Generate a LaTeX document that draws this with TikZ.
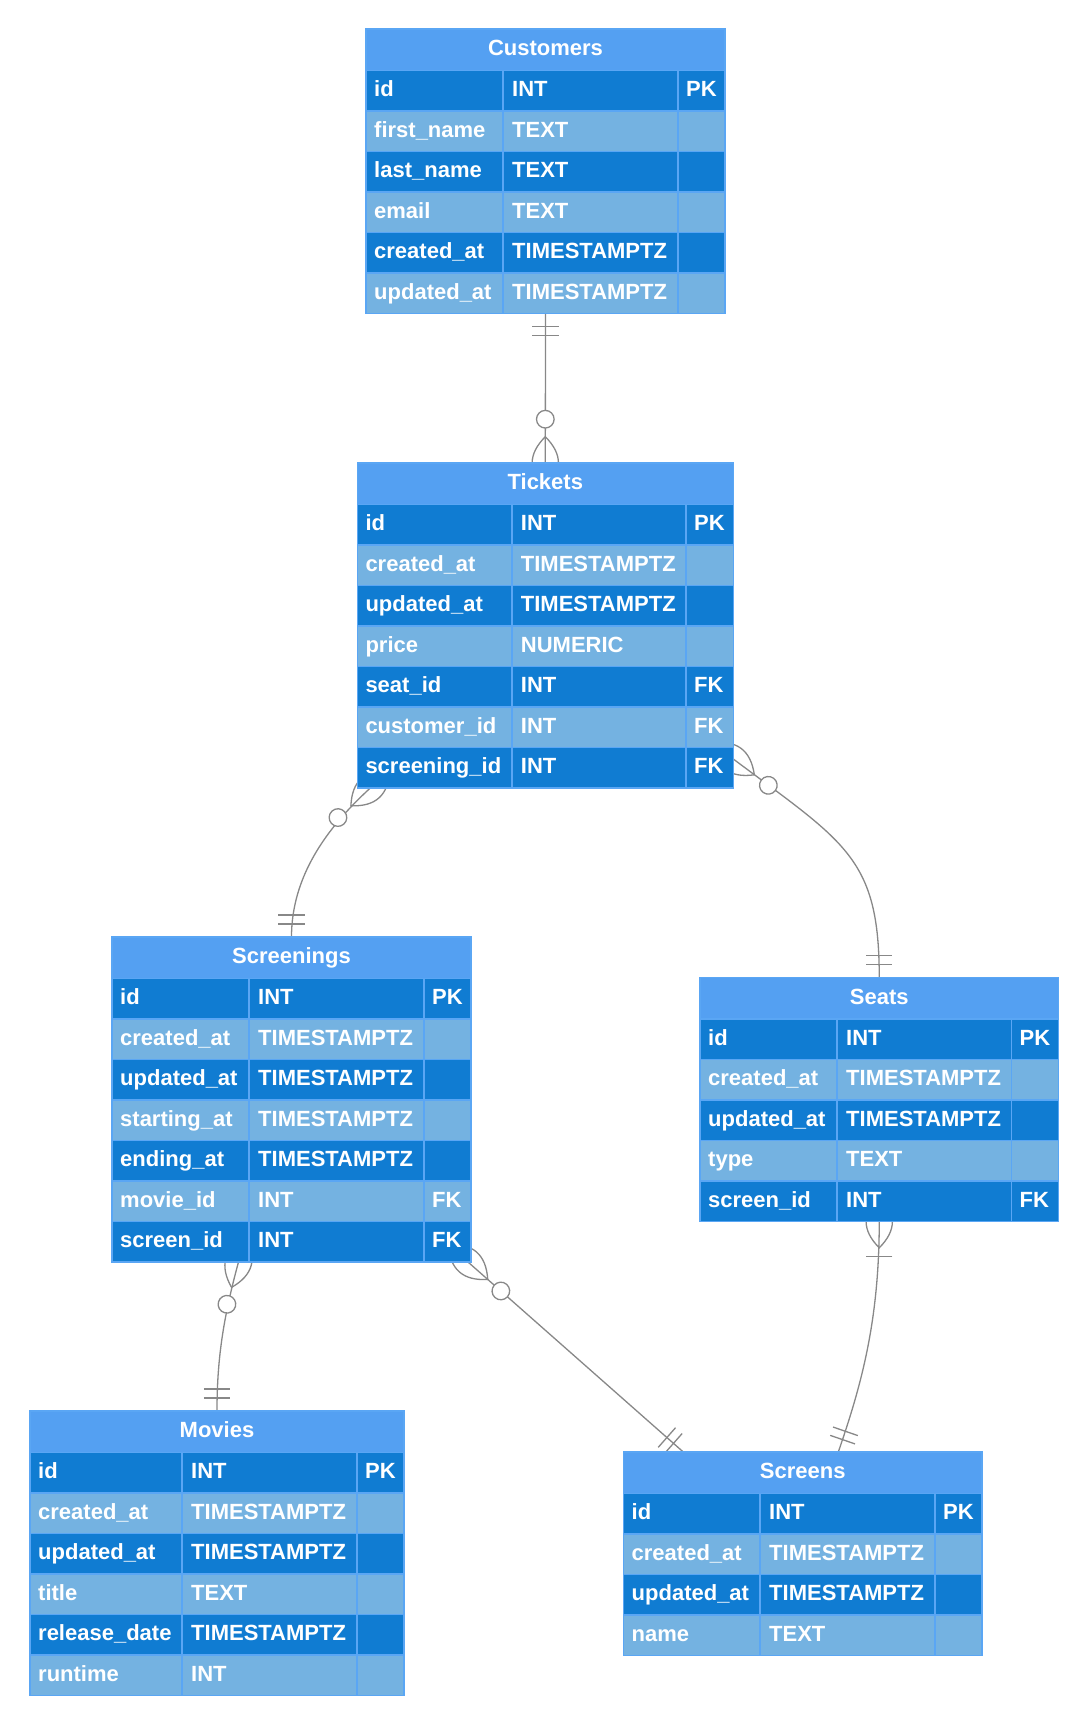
\documentclass[tikz,border=0pt]{standalone}
\usepackage{fontspec}
\setmainfont{Liberation Sans}
\usetikzlibrary{calc}
\pgfdeclarelayer{bg}
\pgfsetlayers{bg,main}
\definecolor{hdrc}{HTML}{54A0F2}
\definecolor{darkc}{HTML}{107CD2}
\definecolor{lightc}{HTML}{74B2E1}
\definecolor{brdc}{HTML}{5AA6F4}
\definecolor{linec}{HTML}{888888}
\newcommand\erfont{\fontsize{22pt}{26pt}\selectfont\bfseries}
\tikzset{
  erframe/.style={fill=hdrc, draw=brdc, line width=1.6pt, inner sep=0pt, outer sep=0pt},
  erborder/.style={draw=brdc, line width=1.6pt},
  ercell/.style={draw=brdc, line width=1.6pt},
  ertext/.style={anchor=base west, inner sep=0pt, text=white, font=\erfont},
  erhtext/.style={anchor=base, inner sep=0pt, text=white, font=\erfont},
  conn/.style={draw=linec, line width=1.3pt},
  ermone/.pic={\draw[conn] (13.1,-13.1) -- (13.1,13.1) (21.9,-13.1) -- (21.9,13.1);},
  ermzm/.pic={\draw[conn] (-26.3,0) .. controls (-8.77,17.53) and (8.77,17.53) .. (26.3,0) .. controls (8.77,-17.53) and (-8.77,-17.53) .. cycle;
              \draw[conn, fill=white] (43.8,0) circle (8.8);},
  ermom/.pic={\draw[conn] (-26.3,0) .. controls (-8.77,17.53) and (8.77,17.53) .. (26.3,0) .. controls (8.77,-17.53) and (-8.77,-17.53) .. cycle;
              \draw[conn] (35,-13.1) -- (35,13.1);}
}
% table: #1 name, #2 left, #3 top, #4 div1, #5 div2, #6 right, #7 rows, #8 title
\newcommand\ertable[8]{%
  \def\tN{#1}\def\tL{#2}\def\tT{#3}\def\tA{#4}\def\tB{#5}\def\tR{#6}%
  \pgfmathsetmacro\tH{41.5+#7*40.5}%
  \pgfmathsetmacro\tW{#6-#2}%
  \node[erframe, minimum width=\tW pt, minimum height=\tH pt, anchor=north west] (#1) at (#2,#3) {};
  \pgfmathsetmacro\hy{#3+20.75+6}%
  \pgfmathsetmacro\hx{(#2+#6)/2}%
  \node[erhtext] (#1-title) at (\hx,\hy) {#8};
}
% row: #1 index, #2 colour, #3 name, #4 type, #5 key
\newcommand\errow[5]{%
  \pgfmathsetmacro\ry{\tT+41.5+(#1-1)*40.5}%
  \pgfmathsetmacro\rb{\ry+40.5}%
  \pgfmathsetmacro\rc{\ry+20.25+6}%
  \draw[ercell, fill=#2] (\tL,\ry) rectangle (\tA,\rb);
  \draw[ercell, fill=#2] (\tA,\ry) rectangle (\tB,\rb);
  \draw[ercell, fill=#2] (\tB,\ry) rectangle (\tR,\rb);
  \node[ertext] (\tN-#1-n) at (\tL+8,\rc) {#3};
  \node[ertext] (\tN-#1-t) at (\tA+9,\rc) {#4};
  \if\relax\detokenize{#5}\relax\else
  \node[ertext] (\tN-#1-k) at (\tB+8,\rc) {#5};
  \fi
}
\newcommand\erclose{\draw[erborder] (\tN.north west) rectangle (\tN.south east);}
\begin{document}
\begin{tikzpicture}[x=1pt,y=-1pt]
\begin{pgfonlayer}{bg}
\fill[white] (0,0) rectangle (1087,1724);
\end{pgfonlayer}
\useasboundingbox (0,0) rectangle (1087,1724);

% Customers
\ertable{cust}{366}{29}{503}{678}{725}{6}{Customers}
\errow{1}{darkc}{id}{INT}{PK}
\errow{2}{lightc}{first\_name}{TEXT}{}
\errow{3}{darkc}{last\_name}{TEXT}{}
\errow{4}{lightc}{email}{TEXT}{}
\errow{5}{darkc}{created\_at}{TIMESTAMPTZ}{}
\errow{6}{lightc}{updated\_at}{TIMESTAMPTZ}{}
\erclose

% Tickets
\ertable{tick}{357.3}{463}{511.7}{686}{733.3}{7}{Tickets}
\errow{1}{darkc}{id}{INT}{PK}
\errow{2}{lightc}{created\_at}{TIMESTAMPTZ}{}
\errow{3}{darkc}{updated\_at}{TIMESTAMPTZ}{}
\errow{4}{lightc}{price}{NUMERIC}{}
\errow{5}{darkc}{seat\_id}{INT}{FK}
\errow{6}{lightc}{customer\_id}{INT}{FK}
\errow{7}{darkc}{screening\_id}{INT}{FK}
\erclose

% Screenings
\ertable{scr}{112}{937}{249}{424}{471}{7}{Screenings}
\errow{1}{darkc}{id}{INT}{PK}
\errow{2}{lightc}{created\_at}{TIMESTAMPTZ}{}
\errow{3}{darkc}{updated\_at}{TIMESTAMPTZ}{}
\errow{4}{lightc}{starting\_at}{TIMESTAMPTZ}{}
\errow{5}{darkc}{ending\_at}{TIMESTAMPTZ}{}
\errow{6}{lightc}{movie\_id}{INT}{FK}
\errow{7}{darkc}{screen\_id}{INT}{FK}
\erclose

% Seats
\ertable{seat}{700}{977.5}{837}{1011.5}{1058.5}{5}{Seats}
\errow{1}{darkc}{id}{INT}{PK}
\errow{2}{lightc}{created\_at}{TIMESTAMPTZ}{}
\errow{3}{darkc}{updated\_at}{TIMESTAMPTZ}{}
\errow{4}{lightc}{type}{TEXT}{}
\errow{5}{darkc}{screen\_id}{INT}{FK}
\erclose

% Movies
\ertable{mov}{30}{1411}{182}{357}{404}{6}{Movies}
\errow{1}{darkc}{id}{INT}{PK}
\errow{2}{lightc}{created\_at}{TIMESTAMPTZ}{}
\errow{3}{darkc}{updated\_at}{TIMESTAMPTZ}{}
\errow{4}{lightc}{title}{TEXT}{}
\errow{5}{darkc}{release\_date}{TIMESTAMPTZ}{}
\errow{6}{lightc}{runtime}{INT}{}
\erclose

% Screens
\ertable{scrn}{623.5}{1452}{760}{935}{982}{4}{Screens}
\errow{1}{darkc}{id}{INT}{PK}
\errow{2}{lightc}{created\_at}{TIMESTAMPTZ}{}
\errow{3}{darkc}{updated\_at}{TIMESTAMPTZ}{}
\errow{4}{lightc}{name}{TEXT}{}
\erclose

% connector end points
\coordinate (pTS) at ([xshift=13pt]tick.south west);
\coordinate (pTSe) at ([yshift=29pt]tick.south east);
\coordinate (pSM) at ([xshift=126.5pt]scr.south west);
\coordinate (pSS) at ([xshift=-3pt]scr.south east);
\coordinate (pN1) at ([xshift=59.8pt]scrn.north west);
\coordinate (pN2) at ([xshift=214.8pt]scrn.north west);

\begin{pgfonlayer}{bg}
\draw[conn] (cust.south) -- (tick.north);
\draw[conn] (pTS) .. controls +(-44.3,40.5) and +(0,-60) .. (scr.north);
\draw[conn] (pTSe) .. controls +(112,84) and +(0,-120) .. (seat.north);
\draw[conn] (pSM) .. controls +(-15.8,57.9) and +(0,-50) .. (mov.north);
\draw[conn] (pSS) -- (pN1);
\draw[conn] (seat.south) .. controls +(0,100) and +(22.8,-66.2) .. (pN2);

\pic[rotate=-90] at (cust.south) {ermone};
\pic[rotate=90] at (tick.north) {ermzm};
\pic[rotate=222.4] at (pTS) {ermzm};
\pic[rotate=90] at (scr.north) {ermone};
\pic[rotate=-36.9] at (pTSe) {ermzm};
\pic[rotate=90] at (seat.north) {ermone};
\pic[rotate=254.7] at (pSM) {ermzm};
\pic[rotate=90] at (mov.north) {ermone};
\pic[rotate=-41.4] at (pSS) {ermzm};
\pic[rotate=138.6] at (pN1) {ermone};
\pic[rotate=-90] at (seat.south) {ermom};
\pic[rotate=71] at (pN2) {ermone};
\end{pgfonlayer}
\end{tikzpicture}
\end{document}
